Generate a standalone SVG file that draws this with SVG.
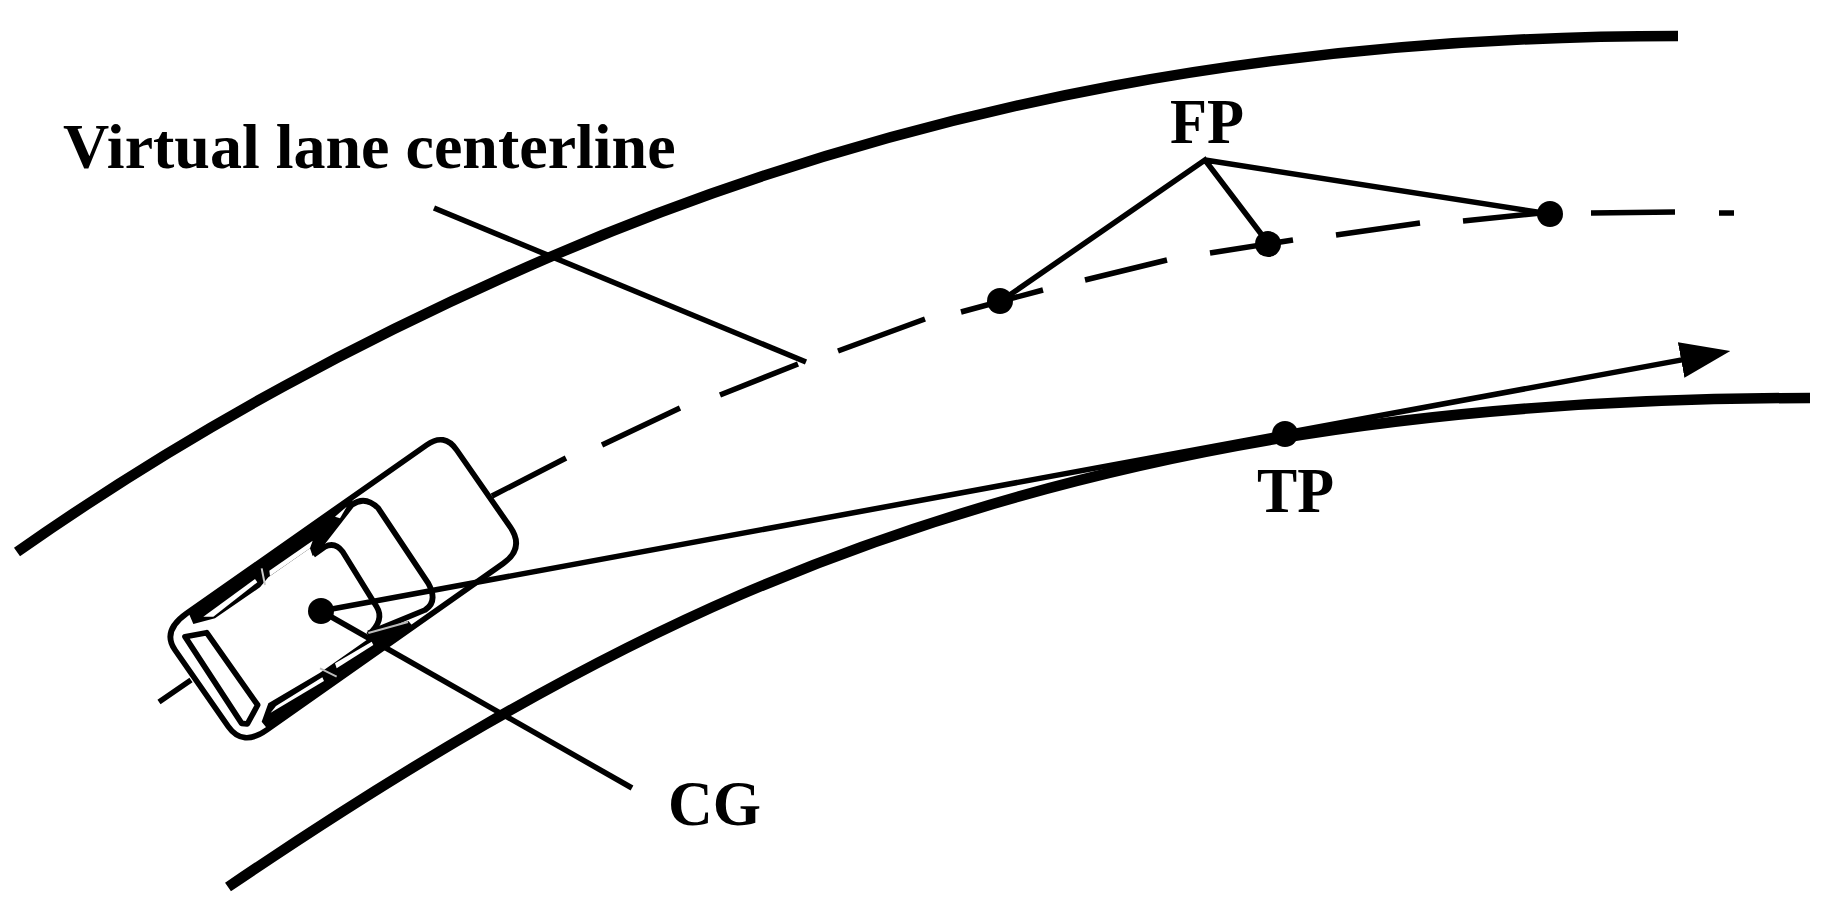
<svg xmlns="http://www.w3.org/2000/svg" width="1833" height="912" viewBox="0 0 1833 912">
<style>
.road{fill:none;stroke:#000;stroke-width:10.5}
.thin{fill:none;stroke:#000;stroke-width:5.5;stroke-linecap:butt}
.dot{fill:#000}
.lbl{font-family:"Liberation Serif","Times New Roman",serif;font-weight:bold;font-size:64px;fill:#000}
.cl{fill:none;stroke:#000;stroke-width:17;stroke-linejoin:round}
.blk{fill:#000}
.wht{fill:#fff}
</style>
<defs>
<marker id="arrow" markerUnits="userSpaceOnUse" markerWidth="50" markerHeight="36" refX="9" refY="18" orient="auto"><path d="M0,0L50,18L0,36Z" fill="#000"/></marker>
</defs>
<rect width="1833" height="912" fill="#fff"/>
<g id="roads">
<path class="road" d="M17,552C195,427 372,334 550,257C926,95 1302,36 1678,36"/>
<path class="road" d="M228,887C399,771 569,669 740,595C1096,442 1454,398 1810,398"/>
</g>
<g id="connectors">
<path class="thin" id="centerline" d="M159,702L191,680M492,496L566,458M602,445L680,408M720,395L798,364M838,351L925,319M961,312L1043,290M1085,280L1167,260M1210,253L1293,240M1336,235L1420,223M1463,221L1541,213M1591,213L1675,212M1719,213L1734,213"/>
<path class="thin" id="leader-centerline" d="M434,208L806,362"/>
<path class="thin" id="leader-cg" d="M321,611L632,788"/>
<path class="thin" id="leader-fp" d="M1001,301L1205,160L1268,243M1205,160L1550,214"/>
<path class="thin" id="tangent" d="M321,611L1690,358.4" marker-end="url(#arrow)"/>
</g>
<g id="car" transform="translate(120 420) scale(.33333)">
<path class="cl" d="M200,580L920,75Q973,37 1010,90L1170,320Q1215,384 1150,430L440,930Q368,981 325,920L165,690Q125,633 200,580Z"/>
<path class="cl" d="M590,390L695,255Q735,225 775,265L925,490Q955,545 915,570L745,640"/>
<path class="cl" d="M580,405L615,380Q645,365 668,395L770,560Q795,600 745,645"/>
<path class="cl" d="M195,650L260,638L413,855L382,912L365,910Z"/>
<path class="blk" d="M205,577L700,229L695,255L600,390L578,408L570,385L445,472L420,502L285,595L220,612Z"/>
<path class="wht" d="M250,590L280,590L412,487L405,477Z"/>
<path class="wht" d="M448,452L578,362L570,385L450,468Z"/>
<path class="wht" d="M645,290L680,260L660,295Z"/>
<path d="M425,445L435,495" stroke="#ccc" stroke-width="6"/>
<path class="blk" d="M425,905L445,850L600,758L740,660L745,640L865,603L880,620L800,676L445,930Z"/>
<path class="wht" d="M452,878L468,858L607,772L612,783Z"/>
<path class="wht" d="M645,730L755,665L760,675L650,745Z"/>
<path d="M600,745L650,770M745,639L864,606" stroke="#bbb" stroke-width="6"/>
</g>
<g id="cg"><circle class="dot" cx="321" cy="611" r="13"/><text class="lbl" x="668" y="825" textLength="93" lengthAdjust="spacingAndGlyphs">CG</text></g>
<g id="fp1"><circle class="dot" cx="1000" cy="301" r="13"/></g>
<g id="fp2"><circle class="dot" cx="1268" cy="244" r="13"/></g>
<g id="fp3"><circle class="dot" cx="1550" cy="214" r="13"/></g>
<g id="fp"><text class="lbl" x="1170" y="143" textLength="74" lengthAdjust="spacingAndGlyphs">FP</text></g>
<g id="tp"><circle class="dot" cx="1285" cy="434" r="13"/><text class="lbl" x="1257" y="512" textLength="77" lengthAdjust="spacingAndGlyphs">TP</text></g>
<g id="label-centerline"><text class="lbl" x="63" y="168">Virtual lane centerline</text></g>
</svg>
